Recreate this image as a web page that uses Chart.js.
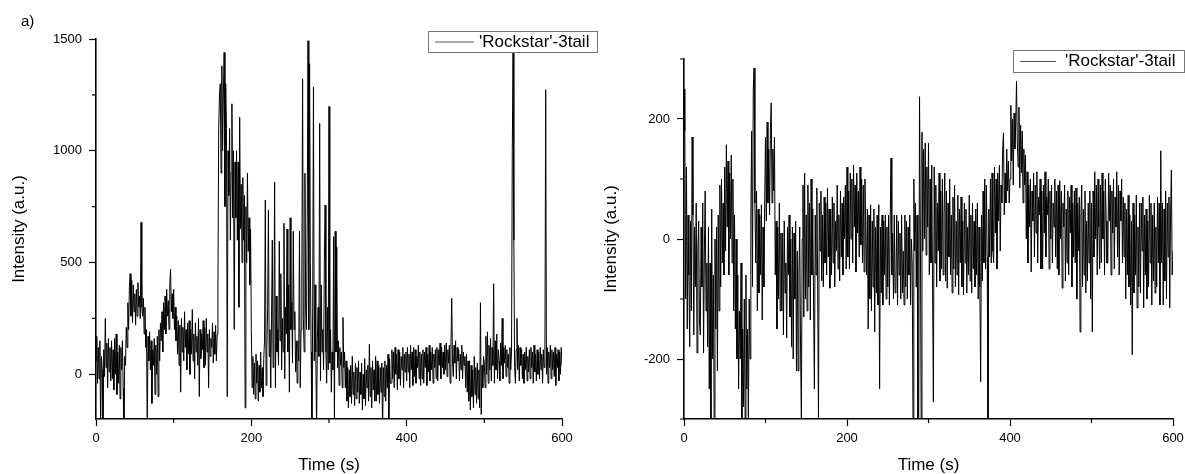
<!DOCTYPE html>
<html>
<head>
<meta charset="utf-8">
<script src="https://cdn.jsdelivr.net/npm/chart.js@4.4.0/dist/chart.umd.min.js"></script>
<style>
  body { margin: 0; background: #fff; width: 1185px; height: 474px; position: relative; overflow: hidden; }
  #wrapA { position: absolute; left: 0; top: 0; width: 600px; height: 474px; }
  #wrapB { position: absolute; left: 592px; top: 0; width: 593px; height: 474px; }
</style>
</head>
<body>
<div id="wrapA"><canvas id="chartA"></canvas></div>
<div id="wrapB"><canvas id="chartB"></canvas></div>
<script>
// sampling interval of both traces (s)
var sampleStep = 1;
var seriesName = "'Rockstar'-3tail";
var xTicks = [0, 200, 400, 600];
var xMinor = [100, 300, 500];

// panel a) left trace, one value per second from 0 to 600 s (20 s per row)
var leftIntensity = [
  60, 170, -40, 120, -20, 150, -240, 80, 20, -230, 110, -10, 250, 30, 140, -60, 160, 10, 120, -30,
  150, -20, 110, -70, 160, 0, 180, -90, 100, -40, 130, -110, 120, 20, 150, -60, -240, 80, 40, 210,
  120, 320, 200, 390, 450, 260, 420, 230, 400, 280, 360, 220, 380, 260, 410, 300, 350, 250, 680, 300,
  260, 340, 180, 300, 120, 200, -240, 170, 60, 190, 20, 150, -130, 110, 40, 160, -90, 130, 0, 170,
  -100, 200, 60, 230, 150, 280, 100, 320, 200, 350, 180, 380, 260, 330, 200, 400, 470, 280, 360, 250,
  380, 200, 300, 150, 260, 90, 240, 40, 220, -80, 250, 100, 210, 60, 280, 120, 200, 20, 230, 90,
  240, 0, 200, 90, 290, 60, 180, -20, 230, 100, 170, 40, 250, -100, 200, 70, 180, 110, 240, 30,
  210, 40, 250, 100, 180, -60, 200, 80, 160, 120, 230, 50, 190, 90, 220, 60, 180, 400, 1100, 1250,
  1300, 900, 1380, 1000, 1250, 1440, 750, 1300, 1100, -100, 1000, 800, 1100, 600, 900, 1210, 700, 1000, 200, 950,
  700, 1000, 600, 950, 300, 1150, 650, 850, 500, 880, 600, 800, -150, 750, 500, 900, 550, 700, 400, 650,
  200, -60, 80, -90, 50, -110, 90, -40, 60, -120, 40, -80, 100, -60, 30, -100, 70, 150, 780, -50,
  120, 300, 735, 80, 200, -60, 250, 600, 30, 150, 860, -60, 350, 100, 200, 40, 595, 150, 450, 20,
  250, 100, 676, -20, 300, 180, 650, 100, 400, -80, 700, 200, 320, 50, 640, 200, 280, 10, 150, -40,
  150, 60, 640, -60, 200, 400, 1322, 250, 100, 900, 300, 200, 700, 1492, 200, 1389, 500, 100, -250, 300,
  1284, 60, 400, 100, -250, 150, 300, 80, 1122, -30, 400, 100, 200, 20, 500, 757, 100, -40, 300, 20,
  1198, 50, 200, -80, 100, 20, 616, -250, 640, 100, 570, 30, 150, -50, 120, 40, 100, -60, 254, 30,
  100, -60, 60, -120, 30, -150, 20, -100, 40, -130, 80, -90, 10, -140, 50, -110, 30, -80, 60, -130,
  10, -90, 50, -160, 0, -110, 70, -140, 20, -60, 40, -120, 134, -100, 30, -150, 60, -70, 20, -120,
  80, -120, 60, -90, 40, -130, 30, -80, 50, -250, 30, -100, 60, -120, 40, -60, 90, -250, 70, -40,
  -40, 110, -20, 100, -60, 120, 0, 90, -70, 110, -20, 100, -50, 80, 20, 120, -60, 90, 10, 100,
  -30, 120, 10, 90, -60, 130, 20, 100, -50, 120, -10, 110, -40, 80, 30, 130, -20, 100, -50, 90,
  -20, 110, -40, 100, 30, 120, -50, 90, 10, 130, -30, 100, 20, 120, -40, 90, 30, 110, -20, 120,
  -30, 110, 40, 140, -20, 120, 30, 100, 0, 130, 20, 140, -10, 110, 50, 130, -40, 120, 340, 60,
  -10, 130, 50, 150, -20, 120, 60, 110, -30, 90, 20, 130, -20, 100, 40, 80, -60, 90, -80, 60,
  -120, 60, -160, 40, -100, 20, -150, 80, -90, 30, -130, 50, -110, 20, -150, 320, -180, 40, -60, 80,
  50, -60, 170, 0, 190, -40, 130, 20, 160, -30, 120, 40, 405, -40, 150, 20, 180, -20, 110, 60,
  -30, 140, 40, 250, -20, 120, 50, 130, -10, 110, 30, 90, -40, 120, 20, 100, 1000, 1460, 600, 30,
  -40, 110, 250, 20, 130, -30, 120, 40, 110, -20, 90, -40, 100, 20, 120, -30, 80, 10, 110, -20,
  120, 30, 100, -40, 130, 10, 90, -30, 110, 0, 100, -20, 120, 20, 90, -40, 110, 30, 80, 1273,
  0, 120, -40, 100, 30, 130, -20, 110, 20, 100, -10, 120, -50, 90, 30, 110, -30, 100, 0, 120,
  40
];
var leftYTicks = [0, 500, 1000, 1500];
var leftYMinor = [250, 750, 1250];

// right trace, same time base
var rightIntensity = [
  250, 180, -100, 120, -150, 40, -60, -180, 30, -120, 170, 40, -160, 20, -80, 60, -190, -20, 30, -140,
  -160, 20, -80, 60, -190, -20, 80, -120, -40, -180, 20, -250, -40, -300, 50, -200, -60, -300, 0, -150,
  20, -220, 40, -120, 90, -80, 100, -40, 60, -60, 120, -20, 157, 20, 130, -60, 110, 0, 140, -40,
  100, -120, 40, -150, 0, -200, -60, -250, -120, -200, -40, -300, -150, -280, -100, -300, -60, -250, -150, -300,
  -100, -200, 30, 180, -80, 250, 285, 60, -40, 80, -120, 50, -90, 40, -60, 57, -135, 20, -80, 60,
  170, 30, 195, 60, 150, 40, 180, 227, 60, 150, 80, 170, -60, 30, -150, 20, -100, 60, -120, 10,
  -120, 10, -160, 30, -90, -40, -165, 20, -60, 40, -130, 0, -180, 20, -200, 10, -100, 30, -220, -20,
  -220, -60, 20, -180, -300, 0, 90, -130, 110, -100, 40, -120, 90, -80, 60, -135, 100, -60, 50, -110,
  -250, 40, -60, 85, -80, -300, 60, -20, 80, -70, 40, -80, 70, -40, 60, -60, 85, -30, 50, -82,
  50, -60, 70, -40, 60, -80, 30, -20, 90, -50, 40, -70, 80, -30, 60, -60, 70, 0, 90, -50,
  120, -30, 80, -50, 110, 0, 100, -40, 123, 20, 90, -55, 110, 10, 80, -30, 120, -10, 100, -40,
  90, -55, 100, 10, -60, 50, -150, 40, -100, 57, -120, 30, -80, 50, -155, 20, -90, 40, -110, 57,
  -250, 20, -90, 40, -110, 30, -60, 40, -100, 20, -80, 40, -110, 30, 135, -60, 10, -100, 40, -90,
  -80, 40, -110, 30, -60, 10, -100, 40, -90, -20, -110, 40, -80, 30, -100, 20, -60, 40, -110, 0,
  -40, -300, 100, -20, 60, -80, 40, -300, -300, 237, 20, -300, 178, -20, 150, 0, 160, -27, 120, 20,
  160, -60, 100, -40, 123, -82, -272, 120, -40, 90, -80, 60, -20, 110, -70, 80, -50, 100, -60, 40,
  110, -70, 80, -82, 60, -30, 100, -60, 40, -90, 70, -50, 90, -80, 30, -60, 73, -93, 50, -40,
  70, -80, 30, -93, 60, -40, 50, -90, 20, -60, 73, -70, 40, -90, 60, -50, 30, -80, 50, -60,
  60, -100, 20, -80, -238, 40, -70, 80, -40, 100, -50, 90, -30, -300, 50, -30, 100, -40, 110, -20,
  -40, 120, 10, 100, -50, 110, 30, 123, -20, 90, 60, 150, 177, 40, 110, 60, 150, 80, 130, 60,
  100, 223, 130, 200, 90, 210, 150, 190, 263, 160, 120, 220, 85, 190, 110, 180, 60, 150, 90, 140,
  0, 112, -40, 90, 20, 100, -55, 80, 30, 110, -30, 90, 10, 112, -40, 70, 40, 100, -50, 80,
  -50, 90, 10, 112, -30, 70, 40, 100, -50, 80, 0, 90, -40, 60, 20, 100, -30, 80, -50, 90,
  -60, 97, 0, 80, -82, 60, 20, 90, -70, 50, -40, 80, -60, 70, 10, 90, -80, 60, -30, 80,
  -40, 85, -100, 60, -20, 70, -155, 40, 90, -80, 50, -60, 80, -90, 30, -70, 60, -40, 80, -100,
  60, -155, 80, -30, 112, 0, 90, -60, 100, 20, -50, 90, -40, 110, 0, 80, -60, 100, 30, -40,
  -40, 110, 30, 90, -60, 80, 10, 100, -50, 70, 20, 112, -30, 90, -60, 80, 30, 100, -40, 70,
  -30, 60, -100, 50, -60, 73, -80, 40, -110, 30, -193, 60, -90, 40, -60, 73, -115, 20, -80, 60,
  -90, 60, -20, 70, -115, 40, -60, 50, -100, 30, -80, 73, -40, 60, -110, 40, -70, 60, -90, 20,
  -80, 70, -40, 60, -110, 147, -40, 60, -110, 50, -70, 80, -100, 60, -30, 70, -115, 40, 115, -60,
  -20
];
var rightYTicks = [-200, 0, 200];
var rightYMinor = [-300, -100, 100, 300];

var fontFamily = '"Liberation Sans", Arial, sans-serif';

function toPoints(values) {
  return values.map(function (v, i) { return { x: i * sampleStep, y: v }; });
}

// minor ticks, legend box, panel letter
var decor = {
  id: 'decor',
  afterDraw: function (chart, args, opts) {
    var ctx = chart.ctx;
    var a = chart.chartArea;
    var xs = chart.scales.x, ys = chart.scales.y;
    ctx.save();
    ctx.strokeStyle = '#000';
    ctx.lineWidth = 1.2;
    ctx.beginPath();
    opts.xMinor.forEach(function (v) {
      var px = xs.getPixelForValue(v);
      ctx.moveTo(px, a.bottom); ctx.lineTo(px, a.bottom + 4);
    });
    opts.yMinor.forEach(function (v) {
      var py = ys.getPixelForValue(v);
      ctx.moveTo(a.left, py); ctx.lineTo(a.left - 4, py);
    });
    ctx.stroke();

    var b = opts.box;
    ctx.fillStyle = '#fff';
    ctx.fillRect(b.x, b.y, b.w, b.h);
    ctx.strokeStyle = '#777';
    ctx.lineWidth = 1;
    ctx.strokeRect(b.x + 0.5, b.y + 0.5, b.w, b.h);
    var my = b.y + b.h / 2 + 0.5;
    ctx.strokeStyle = '#555';
    ctx.beginPath();
    ctx.moveTo(b.x + 7, my); ctx.lineTo(b.x + 7 + b.line, my);
    ctx.stroke();
    ctx.fillStyle = '#000';
    ctx.font = '17px ' + fontFamily;
    ctx.textBaseline = 'middle';
    ctx.textAlign = 'left';
    ctx.fillText(chart.data.datasets[0].label, b.x + b.text, my);

    if (opts.panel) {
      ctx.font = '15px ' + fontFamily;
      ctx.textBaseline = 'alphabetic';
      ctx.fillText(opts.panel, 21, 26);
    }
    ctx.restore();
  }
};

function makeChart(id, values, yMin, yMax, yTicks, yMinor, pad, yWidth, box, panel) {
  return new Chart(document.getElementById(id), {
    type: 'line',
    data: {
      datasets: [{
        label: seriesName,
        data: toPoints(values),
        borderColor: '#000',
        borderWidth: 1,
        pointRadius: 0,
        tension: 0,
        fill: false
      }]
    },
    options: {
      responsive: true,
      maintainAspectRatio: false,
      animation: false,
      events: [],
      layout: { padding: pad },
      plugins: {
        legend: { display: false },
        tooltip: { enabled: false },
        decor: { xMinor: xMinor, yMinor: yMinor, box: box, panel: panel }
      },
      scales: {
        x: {
          type: 'linear',
          min: 0,
          max: 600,
          afterBuildTicks: function (s) { s.ticks = xTicks.map(function (v) { return { value: v }; }); },
          afterFit: function (s) { s.height = 55; s.paddingLeft = 0; s.paddingRight = 0; },
          grid: { drawOnChartArea: false, tickLength: 7, tickColor: '#000', tickWidth: 1.2 },
          border: { color: '#000', width: 1.6 },
          ticks: { color: '#000', padding: 5, maxRotation: 0, font: { family: fontFamily, size: 13 },
                   callback: function (v) { return String(v); } },
          title: { display: true, text: 'Time (s)', color: '#000', padding: { top: 0, bottom: 0 },
                   font: { family: fontFamily, size: 17, lineHeight: 1 } }
        },
        y: {
          min: yMin,
          max: yMax,
          afterBuildTicks: function (s) { s.ticks = yTicks.map(function (v) { return { value: v }; }); },
          afterFit: function (s) { s.width = yWidth; s.paddingTop = 0; s.paddingBottom = 0; },
          grid: { drawOnChartArea: false, tickLength: 7, tickColor: '#000', tickWidth: 1.2 },
          border: { color: '#000', width: 1.6 },
          ticks: { color: '#000', padding: 7, font: { family: fontFamily, size: 13 },
                   callback: function (v) { return String(v); } },
          title: { display: true, text: 'Intensity (a.u.)', color: '#000', padding: { top: 11, bottom: 0 },
                   font: { family: fontFamily, size: 17, lineHeight: 1 } }
        }
      }
    },
    plugins: [decor]
  });
}

makeChart('chartA', leftIntensity, -200, 1500, leftYTicks, leftYMinor,
  { left: 0, top: 39, right: 38, bottom: 0 }, 96,
  { x: 428, y: 31, w: 169, h: 21, line: 39, text: 51 }, 'a)');

makeChart('chartB', rightIntensity, -300, 300, rightYTicks, rightYMinor,
  { left: 0, top: 59, right: 12, bottom: 0 }, 92,
  { x: 421, y: 50, w: 171, h: 22, line: 36, text: 52 }, null);
</script>
</body>
</html>
